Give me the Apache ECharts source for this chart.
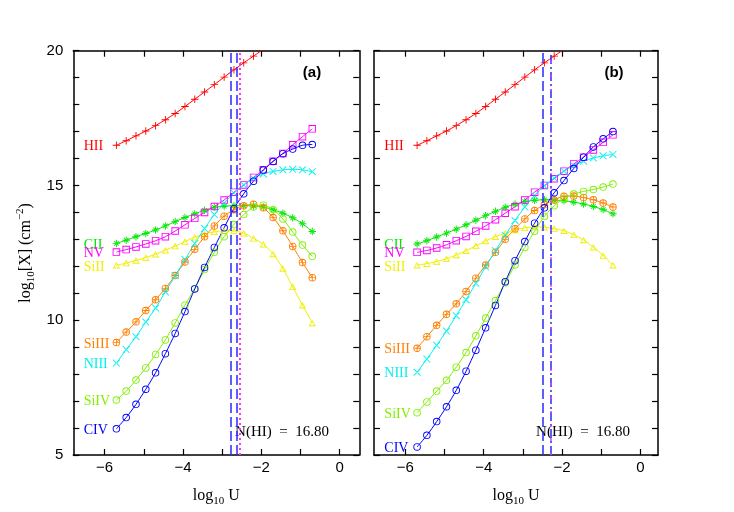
<!DOCTYPE html>
<html lang="en">
<head>
<meta charset="UTF-8">
<title>Column densities vs log U</title>
<script src="https://cdn.jsdelivr.net/npm/echarts@6/dist/echarts.min.js"></script>
<style>
  html, body { margin: 0; padding: 0; background: #fff; }
  #chart { width: 734px; height: 512px; }
</style>
</head>
<body>
<div id="chart"></div>
<script>
// ---- data ----
var logU = [-5.7, -5.45, -5.2, -4.95, -4.7, -4.45, -4.2, -3.95, -3.7, -3.45, -3.2,
            -2.95, -2.7, -2.45, -2.2, -1.95, -1.7, -1.45, -1.2, -0.95, -0.7];

var xTicks = [-6, -5, -4, -3, -2, -1, 0];
var xTickLabels = [-6, -4, -2, 0];
var yTicks = [5, 6, 7, 8, 9, 10, 11, 12, 13, 14, 15, 16, 17, 18, 19, 20];
var yTickLabels = [5, 10, 15, 20];

// panel (a)
var hiiA   = [16.49, 16.66, 16.84, 17.02, 17.22, 17.44, 17.67, 17.93, 18.20, 18.47, 18.74, 19.02, 19.29, 19.55, 19.80, 20.05];
var ciiA   = [12.85, 12.97, 13.10, 13.22, 13.35, 13.50, 13.66, 13.81, 13.95, 14.08, 14.19, 14.23, 14.25, 14.25, 14.24, 14.20, 14.10, 13.97, 13.80, 13.58, 13.29];
var nvA    = [12.53, 12.62, 12.72, 12.83, 12.95, 13.10, 13.31, 13.54, 13.78, 14.00, 14.22, 14.46, 14.75, 15.02, 15.30, 15.58, 15.90, 16.19, 16.51, 16.81, 17.10];
var siiiA  = [12.04, 12.12, 12.22, 12.33, 12.45, 12.60, 12.75, 12.92, 13.08, 13.20, 13.28, 13.32, 13.31, 13.23, 13.04, 12.82, 12.46, 11.92, 11.24, 10.56, 9.90];
var siiiiA = [9.17, 9.56, 9.94, 10.36, 10.76, 11.18, 11.66, 12.16, 12.63, 13.10, 13.50, 13.86, 14.10, 14.25, 14.30, 14.17, 13.81, 13.32, 12.74, 12.14, 11.58];
var niiiA  = [8.41, 8.91, 9.39, 9.93, 10.45, 11.05, 11.65, 12.25, 12.85, 13.40, 13.92, 14.35, 14.72, 15.02, 15.26, 15.43, 15.52, 15.58, 15.60, 15.58, 15.51];
var sivA   = [7.04, 7.37, 7.78, 8.23, 8.73, 9.27, 9.90, 10.56, 11.18, 11.88, 12.52, 13.10, 13.55, 13.92, 14.20, 14.27, 14.10, 13.76, 13.27, 12.79, 12.37];
var civA   = [5.97, 6.39, 6.88, 7.44, 8.05, 8.76, 9.51, 10.32, 11.16, 11.96, 12.70, 13.43, 14.14, 14.69, 15.16, 15.57, 15.89, 16.18, 16.35, 16.49, 16.52];

// panel (b)
var hiiB   = [16.49, 16.66, 16.84, 17.02, 17.22, 17.44, 17.67, 17.93, 18.20, 18.47, 18.74, 19.02, 19.29, 19.55, 19.80, 20.05];
var ciiB   = [12.83, 12.95, 13.09, 13.23, 13.38, 13.54, 13.71, 13.88, 14.04, 14.19, 14.31, 14.40, 14.45, 14.47, 14.46, 14.43, 14.38, 14.31, 14.22, 14.10, 13.95];
var nvB    = [12.52, 12.59, 12.68, 12.80, 12.95, 13.11, 13.30, 13.50, 13.73, 13.97, 14.21, 14.46, 14.75, 15.00, 15.25, 15.53, 15.80, 16.05, 16.32, 16.60, 16.88];
var siiiB  = [12.04, 12.10, 12.18, 12.28, 12.42, 12.58, 12.76, 12.94, 13.10, 13.23, 13.35, 13.43, 13.46, 13.45, 13.40, 13.32, 13.17, 12.98, 12.71, 12.40, 12.04];
var siiiiB = [8.96, 9.39, 9.81, 10.22, 10.61, 11.07, 11.56, 12.05, 12.52, 13.00, 13.39, 13.76, 14.07, 14.29, 14.46, 14.60, 14.61, 14.55, 14.47, 14.35, 14.20];
var niiiB  = [8.07, 8.56, 9.07, 9.60, 10.17, 10.76, 11.37, 11.98, 12.58, 13.15, 13.70, 14.20, 14.63, 14.98, 15.28, 15.53, 15.74, 15.90, 16.02, 16.10, 16.15];
var sivB   = [6.57, 6.97, 7.37, 7.77, 8.26, 8.80, 9.42, 10.08, 10.73, 11.39, 12.05, 12.70, 13.30, 13.85, 14.25, 14.52, 14.68, 14.78, 14.85, 14.94, 15.05];
var civB   = [5.30, 5.73, 6.24, 6.79, 7.40, 8.11, 8.89, 9.72, 10.55, 11.43, 12.21, 12.92, 13.60, 14.17, 14.73, 15.18, 15.63, 16.05, 16.43, 16.73, 17.00];

// vertical markers (log U)
var vlinesA = [-2.79, -2.62, -2.54];
var vlinesB = [-2.48, -2.29, -2.29];

var nhiText = 'N(HI)  =  16.80';

// ---- styles ----
var sym = {
  plus: 'path://M0,4.4L10,4.4L10,5.6L0,5.6ZM4.4,0L5.6,0L5.6,10L4.4,10Z',
  star: 'path://M0,4.4L10,4.4L10,5.6L0,5.6ZM4.4,0L5.6,0L5.6,10L4.4,10ZM1.5,2.35L2.35,1.5L8.5,7.65L7.65,8.5ZM8.5,2.35L7.65,1.5L1.5,7.65L2.35,8.5Z',
  square: 'path://M0,0L10,0L10,10L0,10ZM1.2,1.2L1.2,8.8L8.8,8.8L8.8,1.2Z',
  triangle: 'path://M5,0L10,8.66L0,8.66ZM5,2.4L2,7.46L8,7.46Z',
  circlePlus: 'path://M0,5A5,5,0,1,1,10,5A5,5,0,1,1,0,5ZM1.2,5A3.8,3.8,0,1,0,8.8,5A3.8,3.8,0,1,0,1.2,5ZM1,4.45L9,4.45L9,5.55L1,5.55ZM4.45,1L5.55,1L5.55,9L4.45,9Z',
  cross: 'path://M0,0.85L0.85,0L10,9.15L9.15,10ZM10,0.85L9.15,0L0,9.15L0.85,10Z',
  circle: 'path://M0,5A5,5,0,1,1,10,5A5,5,0,1,1,0,5ZM1.2,5A3.8,3.8,0,1,0,8.8,5A3.8,3.8,0,1,0,1.2,5Z'
};

var ions = [
  { name: 'HII',   color: '#ff0000', symbol: sym.plus,       a: hiiA,   b: hiiB },
  { name: 'CII',   color: '#00e600', symbol: sym.star,       a: ciiA,   b: ciiB },
  { name: 'NV',    color: '#ff00ff', symbol: sym.square,     a: nvA,    b: nvB },
  { name: 'SiII',  color: '#f0f000', symbol: sym.triangle,   a: siiiA,  b: siiiB },
  { name: 'SiIII', color: '#ff8000', symbol: sym.circlePlus, a: siiiiA, b: siiiiB },
  { name: 'NIII',  color: '#00f0f0', symbol: sym.cross,      a: niiiA,  b: niiiB },
  { name: 'SiIV',  color: '#80f000', symbol: sym.circle,     a: sivA,   b: sivB },
  { name: 'CIV',   color: '#0000ff', symbol: sym.circle,     a: civA,   b: civB }
];

var serif = "'Liberation Serif', 'DejaVu Serif', serif";
var sans = "'Liberation Sans', Arial, sans-serif";

function minus(v) { return v < 0 ? '\u2212' + (-v) : String(v); }

function points(ys, ion) {
  return ys.map(function (y, i) {
    if (i === 0) {
      return {
        value: [logU[i], y],
        label: {
          show: true, formatter: ion.name, position: [-29, 5.25],
          align: 'left', verticalAlign: 'middle',
          color: ion.color, fontFamily: serif, fontSize: 14
        }
      };
    }
    return [logU[i], y];
  });
}

function xAxis(grid, pos, max, withLabel) {
  return {
    type: 'value', gridIndex: grid, position: pos, min: -6.8, max: max,
    axisLine: { show: true, onZero: false, lineStyle: { color: '#000', width: 1.5 } },
    axisTick: { show: true, inside: true, length: 6, customValues: xTicks, lineStyle: { color: '#000', width: 1.2 } },
    axisLabel: { show: withLabel, customValues: xTickLabels, formatter: minus, margin: 5,
                 color: '#000', fontFamily: sans, fontSize: 15 },
    splitLine: { show: false },
    name: withLabel ? 'log{s|10} U' : '', nameLocation: 'middle', nameGap: 30,
    nameTextStyle: { color: '#000', fontFamily: serif, fontSize: 16, lineHeight: 22,
                     rich: { s: { fontFamily: serif, fontSize: 11, verticalAlign: 'bottom', lineHeight: 11 } } }
  };
}

function yAxis(grid, pos, withLabel, withName) {
  return {
    type: 'value', gridIndex: grid, position: pos, min: 5, max: 20,
    axisLine: { show: true, onZero: false, lineStyle: { color: '#000', width: 1.5 } },
    axisTick: { show: true, inside: true, length: 6, customValues: yTicks, lineStyle: { color: '#000', width: 1.2 } },
    axisLabel: { show: withLabel, customValues: yTickLabels, margin: 10,
                 color: '#000', fontFamily: sans, fontSize: 15 },
    splitLine: { show: false },
    name: withName ? 'log{s|10}[X] (cm{p|\u22122})' : '', nameLocation: 'middle', nameGap: 37,
    nameTextStyle: { color: '#000', fontFamily: serif, fontSize: 16, lineHeight: 22,
                     rich: {
                       s: { fontFamily: serif, fontSize: 11, verticalAlign: 'bottom', lineHeight: 11 },
                       p: { fontFamily: serif, fontSize: 11, verticalAlign: 'top', lineHeight: 11 }
                     } }
  };
}

function vline(v, color, type, width) {
  return { xAxis: v, lineStyle: { color: color, type: type, width: width } };
}

var markA = [
  vline(vlinesA[0], '#2a2aff', [10, 4], 1.5),
  vline(vlinesA[1], '#2a2aff', [10, 4], 1.5),
  vline(vlinesA[2], '#ff33ff', [2, 3], 2)
];
var markB = [
  vline(vlinesB[0], '#2a2aff', [10, 4], 1.5),
  vline(vlinesB[1], '#2a2aff', [9, 3, 2, 3], 1.5),
  vline(vlinesB[2], '#ff33ff', [2, 12], 1.5)
];

var series = [];
['a', 'b'].forEach(function (p, k) {
  ions.forEach(function (ion, j) {
    var s = {
      type: 'line', name: ion.name + ' (' + p + ')',
      xAxisIndex: k * 2, yAxisIndex: k * 2,
      data: points(ion[p], ion),
      smooth: 0.3, clip: true,
      symbol: ion.symbol, symbolSize: 7.5, symbolKeepAspect: true,
      lineStyle: { color: ion.color, width: 1 },
      itemStyle: { color: ion.color, borderWidth: 0 },
      emphasis: { disabled: true },
      silent: true
    };
    if (j === ions.length - 1) {
      s.markLine = { silent: true, symbol: ['none', 'none'], label: { show: false },
                     data: p === 'a' ? markA : markB };
    }
    series.push(s);
  });
});

var chart = echarts.init(document.getElementById('chart'));
chart.setOption({
  backgroundColor: '#fff',
  animation: false,
  grid: [
    { left: 73.3, top: 50.7, width: 286, height: 410 },
    { left: 374, top: 50.7, width: 284, height: 410 }
  ],
  xAxis: [
    xAxis(0, 'bottom', 0.5, true),
    xAxis(0, 'top', 0.5, false),
    xAxis(1, 'bottom', 0.45, true),
    xAxis(1, 'top', 0.45, false)
  ],
  yAxis: [
    yAxis(0, 'left', true, true),
    yAxis(0, 'right', false, false),
    yAxis(1, 'left', false, false),
    yAxis(1, 'right', false, false)
  ],
  graphic: [
    { type: 'text', x: 312, y: 73, silent: true,
      style: { text: '(a)', font: 'bold 15px ' + sans, fill: '#000', align: 'center', verticalAlign: 'middle' } },
    { type: 'text', x: 614, y: 73, silent: true,
      style: { text: '(b)', font: 'bold 15px ' + sans, fill: '#000', align: 'center', verticalAlign: 'middle' } },
    { type: 'text', x: 282, y: 432, silent: true,
      style: { text: nhiText, font: '15px ' + serif, fill: '#000', align: 'center', verticalAlign: 'middle' } },
    { type: 'text', x: 583, y: 432, silent: true,
      style: { text: nhiText, font: '15px ' + serif, fill: '#000', align: 'center', verticalAlign: 'middle' } }
  ],
  series: series
});
</script>
</body>
</html>
